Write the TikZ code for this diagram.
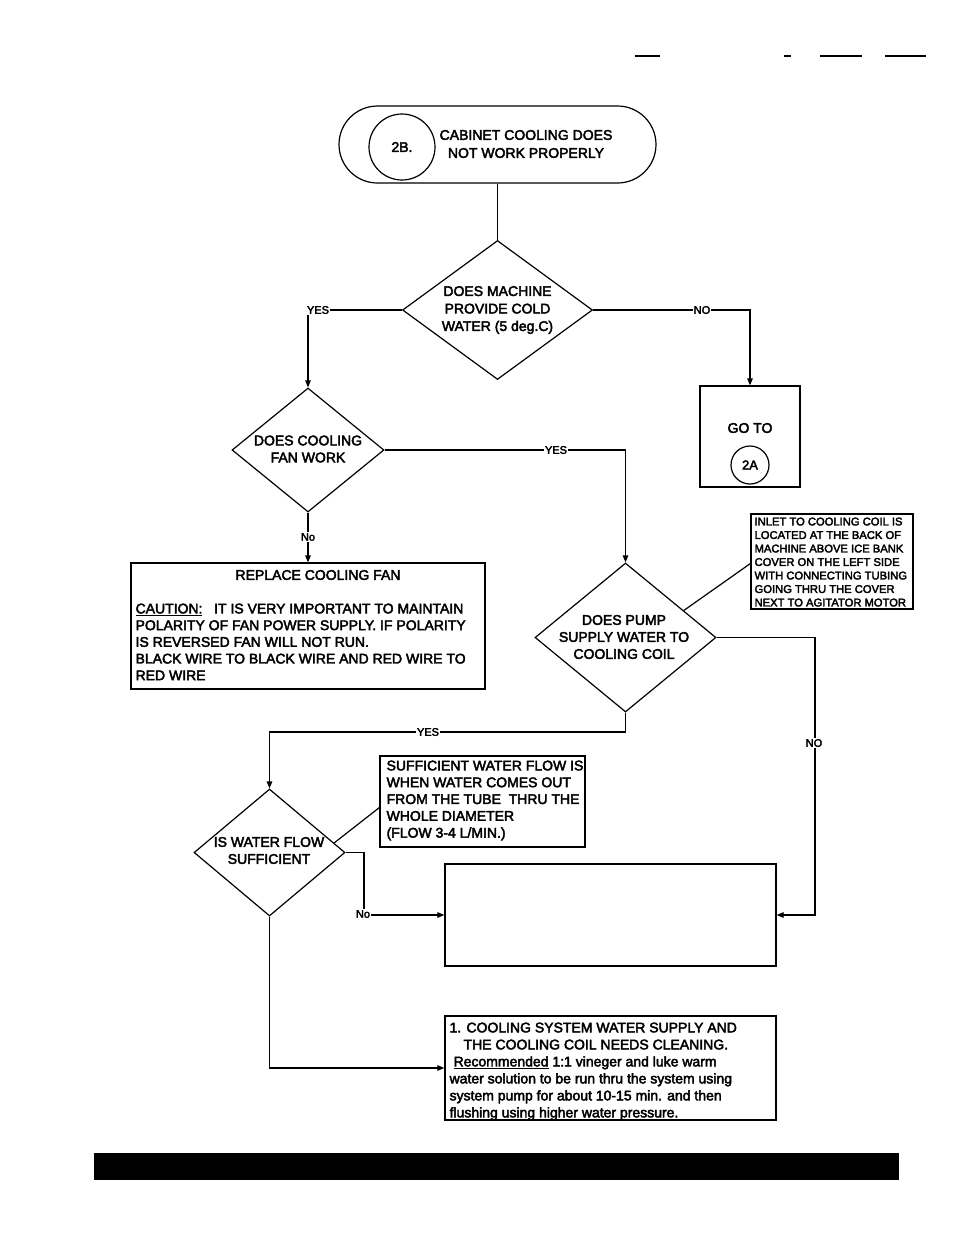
\documentclass[tikz,border=0pt]{standalone}
\usepackage{fontspec}
\setmainfont{Liberation Sans}[UprightFeatures={FakeBold=3}]
\usetikzlibrary{shapes.geometric,arrows.meta,calc}
\begin{document}
\begin{tikzpicture}[x=1pt,y=-1pt, line width=1.2pt,
  box/.style={draw, rectangle, inner sep=0pt},
  dia/.style={draw, diamond, inner sep=0pt},
  ring/.style={draw, circle, inner sep=0pt},
  txt/.style={font=\fontsize{14pt}{17.5pt}\selectfont, align=center, inner sep=0pt},
  ltxt/.style={font=\fontsize{14pt}{16.8pt}\selectfont, align=left, inner sep=0pt, anchor=north west},
  lbl/.style={font=\fontsize{11pt}{12pt}\selectfont, fill=white, inner sep=1pt},
  arr/.style={-{Triangle[length=7pt,width=5.5pt]}}]
\useasboundingbox (0,0) rectangle (954,1235);

% page residue at top
\draw[line width=1.5pt] (635,56) -- (660,56);
\draw[line width=1.5pt] (784,56) -- (791,56);
\draw[line width=1.5pt] (820,56) -- (862,56);
\draw[line width=1.5pt] (885,56) -- (926,56);

% start terminal
\node[box, rounded corners=38.5pt, minimum width=317pt, minimum height=77pt] (start) at (497.5,144.5) {};
\node[ring, minimum size=66pt, font=\fontsize{14pt}{16pt}\selectfont] (c2b) at (402,147) {2B.};
\node[txt, font=\fontsize{14pt}{18pt}\selectfont] (starttxt) at (526,144) {CABINET COOLING DOES\\NOT WORK PROPERLY};

% decision 1
\node[dia, minimum width=190pt, minimum height=139pt] (d1) at (497.5,310) {};
\node[txt] (d1txt) at (497.5,310) {DOES MACHINE\\PROVIDE COLD\\WATER (5 deg.C)};

% go to box
\node[box, minimum width=100pt, minimum height=101pt] (goto) at (750,436.5) {};
\node[txt] (gototxt) at (750,428) {GO TO};
\node[ring, minimum size=38pt, font=\fontsize{13pt}{14pt}\selectfont] (c2a) at (750,465) {2A};

% decision 2
\node[dia, minimum width=152pt, minimum height=124pt] (d2) at (308,450) {};
\node[txt, font=\fontsize{14pt}{17pt}\selectfont] (d2txt) at (308,449) {DOES COOLING\\FAN WORK};

% replace fan box
\node[box, minimum width=354pt, minimum height=126pt] (rep) at (308,626) {};
\node[txt] (reptitle) at (318,575) {REPLACE COOLING FAN};
\node[ltxt, font=\fontsize{14pt}{16.7pt}\selectfont] (repbody) at (135,603) {\underline{CAUTION:}\ \ \ IT IS VERY IMPORTANT TO MAINTAIN\\POLARITY OF FAN POWER SUPPLY. IF POLARITY\\IS REVERSED FAN WILL NOT RUN.\\BLACK WIRE TO BLACK WIRE AND RED WIRE TO\\RED WIRE};

% inlet note
\node[box, minimum width=162pt, minimum height=95pt] (inlet) at (832,561.5) {};
\node[ltxt, font=\fontsize{11.2pt}{13.5pt}\selectfont] (inlettxt) at (754,517) {INLET TO COOLING COIL IS\\LOCATED AT THE BACK OF\\MACHINE ABOVE ICE BANK\\COVER ON THE LEFT SIDE\\WITH CONNECTING TUBING\\GOING THRU THE COVER\\NEXT TO AGITATOR MOTOR};

% decision 3
\node[dia, minimum width=181pt, minimum height=149pt] (d3) at (625.5,637.5) {};
\node[txt, font=\fontsize{14pt}{17pt}\selectfont] (d3txt) at (624,637) {DOES PUMP\\SUPPLY WATER TO\\COOLING COIL};

% decision 4
\node[dia, minimum width=151pt, minimum height=127pt] (d4) at (269.5,852.5) {};
\node[txt, font=\fontsize{14pt}{17pt}\selectfont] (d4txt) at (269,850.5) {IS WATER FLOW\\SUFFICIENT};

% sufficient note
\node[box, minimum width=205pt, minimum height=91pt] (suff) at (482.5,801.5) {};
\node[ltxt] (sufftxt) at (386,760) {SUFFICIENT WATER FLOW IS\\WHEN WATER COMES OUT\\FROM THE TUBE\ \ THRU THE\\WHOLE DIAMETER\\(FLOW 3-4 L/MIN.)};

% empty box
\node[box, minimum width=331pt, minimum height=102pt] (empty) at (610.5,915) {};

% cleaning box
\node[box, minimum width=331pt, minimum height=104pt] (clean) at (610.5,1068) {};
\node[ltxt, font=\fontsize{14pt}{17pt}\selectfont] (cleantxt) at (449,1022) {1. COOLING SYSTEM WATER SUPPLY AND\\\hspace*{14pt}THE COOLING COIL NEEDS CLEANING.\\\hspace*{4pt}\underline{Recommended} 1:1 vineger and luke warm\\water solution to be run thru the system using\\system pump for about 10-15 min. and then\\flushing using higher water pressure.};

% connectors
\draw (start.south) -- (d1.north);
\draw[arr] (d1.west) -- (d1.west -| d2.north) -- (d2.north);
\node[lbl] (y1) at (318,310) {YES};
\draw[arr] (d1.east) -- (d1.east -| goto.north) -- (goto.north);
\node[lbl] (n1) at (702,310) {NO};
\draw[arr] (d2.east) -- (d2.east -| d3.north) -- (d3.north);
\node[lbl] (y2) at (556,450) {YES};
\draw[arr] (d2.south) -- (rep.north);
\node[lbl] (n2) at (308,537) {No};
\draw ($(d3.north)!0.64!(d3.east)$) -- ($(inlet.west)+(0,2)$);
\coordinate (r3) at (815,637.5);
\draw[arr] (d3.east) -- (r3) -- (r3 |- empty.east) -- (empty.east);
\node[lbl] (n3) at (814,743) {NO};
\coordinate (b3) at (625.5,732);
\draw[arr] (d3.south) -- (b3) -| (d4.north);
\node[lbl] (y3) at (428,732) {YES};
\draw ($(d4.north)!0.85!(d4.east)$) -- ($(suff.west)+(0,6)$);
\coordinate (r4) at (364,852.5);
\draw[arr] (d4.east) -- (r4) -- (r4 |- empty.west) -- (empty.west);
\node[lbl] (n4) at (363,914) {No};
\draw[arr] (d4.south) |- (clean.west);

% bottom bar
\fill (94,1153) rectangle (899,1180);
\end{tikzpicture}
\end{document}
